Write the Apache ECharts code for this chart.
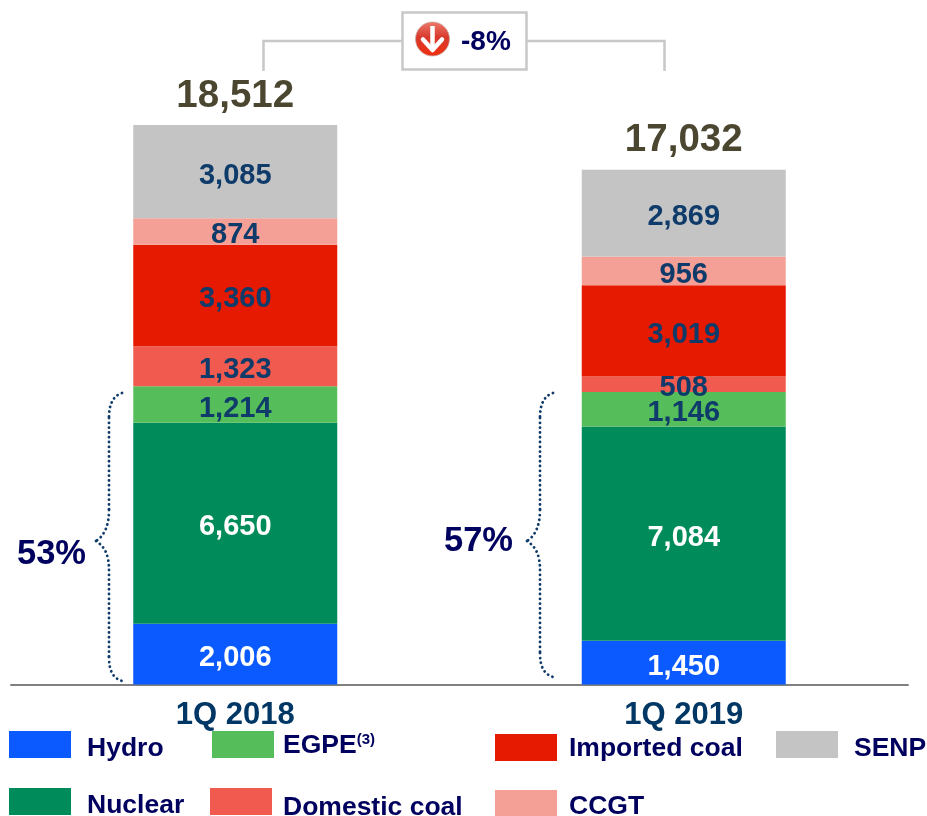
<!DOCTYPE html>
<html>
<head>
<meta charset="utf-8">
<style>html,body{margin:0;padding:0;background:#fff}#c{width:927px;height:816px}</style>
<script src="https://cdn.jsdelivr.net/npm/echarts@6/dist/echarts.min.js"></script>
</head>
<body>
<div id="c"></div>
<script>
var categories = ['1Q 2018', '1Q 2019'];
var hydro = [2006, 1450];
var nuclear = [6650, 7084];
var egpe = [1214, 1146];
var domesticCoal = [1323, 508];
var importedCoal = [3360, 3019];
var ccgt = [874, 956];
var senp = [3085, 2869];
var totals = [18512, 17032];
var shareLabels = ['53%', '57%'];
var changeLabel = '-8%';

var FONT = '"Liberation Sans", Arial, sans-serif';
var NAVY = '#00005f';
var LABEL = '#0f3b6b';
var fmt = function (v) { return String(v).replace(/\B(?=(\d{3})+$)/g, ','); };

var defs = [
  {name: 'Hydro', data: hydro, color: '#0a5aff', text: '#ffffff', left: 9, top: 731, gap: 16, dy: 4},
  {name: 'Nuclear', data: nuclear, color: '#008c5a', text: '#ffffff', left: 9, top: 788, gap: 16, dy: 4},
  {name: 'EGPE', data: egpe, color: '#55be5a', text: LABEL, left: 212, top: 731, gap: 9, dy: 1},
  {name: 'Domestic coal', data: domesticCoal, color: '#f05a4f', text: LABEL, left: 210, top: 788, gap: 11, dy: 6},
  {name: 'Imported coal', data: importedCoal, color: '#e61a00', text: LABEL, left: 495, top: 734, gap: 12, dy: 1},
  {name: 'CCGT', data: ccgt, color: '#f5a096', text: LABEL, left: 495, top: 790, gap: 12, dy: 3},
  {name: 'SENP', data: senp, color: '#c4c4c4', text: LABEL, left: 776, top: 731, gap: 16, dy: 4}
];

var series = defs.map(function (d) {
  return {
    name: d.name, type: 'bar', stack: 'gen', barWidth: 204, data: d.data,
    itemStyle: {color: d.color},
    label: {show: true, position: 'inside', offset: [0, 4], color: d.text, fontFamily: FONT, fontWeight: 'bold', fontSize: 29,
      formatter: function (p) { return fmt(p.value); }}
  };
});
series.push({
  name: 'Total', type: 'scatter', data: totals, symbolSize: 1, silent: true,
  itemStyle: {color: 'rgba(0,0,0,0)', opacity: 1},
  label: {show: true, position: 'top', distance: 9, opacity: 1, color: '#4b4630', fontFamily: FONT, fontWeight: 'bold', fontSize: 38.5,
    formatter: function (p) { return fmt(p.value); }}
});

var legends = defs.map(function (d) {
  return {
    data: [d.name], left: d.left, top: d.top, padding: 0, itemWidth: 62, itemHeight: 27, itemGap: 0,
    selectedMode: false, icon: 'rect', itemStyle: {borderWidth: 0},
    formatter: d.name === 'EGPE' ? '{b|EGPE}{s|(3)}' : undefined,
    textStyle: {
      color: NAVY, fontFamily: FONT, fontWeight: 'bold', fontSize: 26.5, padding: [d.dy * 2, 0, 0, d.gap - 5],
      rich: {
        b: {color: NAVY, fontFamily: FONT, fontWeight: 'bold', fontSize: 26.5},
        s: {color: NAVY, fontFamily: FONT, fontWeight: 'bold', fontSize: 15, verticalAlign: 'top', padding: [0, 0, 8, 0]}
      }
    }
  };
});

function brace(dx, bottom) {
  var st = {stroke: '#0f3b6b', lineWidth: 2.8, lineDash: [0.1, 4.7], lineCap: 'round', fill: 'none'};
  var tip = 541;
  return [
    {type: 'bezierCurve', silent: true, style: st, shape: {x1: 122 + dx, y1: 393, cpx1: 113 + dx, cpy1: 396, cpx2: 109 + dx, cpy2: 404, x2: 109 + dx, y2: 418}},
    {type: 'line', silent: true, style: st, shape: {x1: 109 + dx, y1: 418, x2: 109 + dx, y2: 510}},
    {type: 'bezierCurve', silent: true, style: st, shape: {x1: 109 + dx, y1: 510, cpx1: 109 + dx, cpy1: 526, cpx2: 104 + dx, cpy2: 536, x2: 96 + dx, y2: tip}},
    {type: 'bezierCurve', silent: true, style: st, shape: {x1: 96 + dx, y1: tip, cpx1: 104 + dx, cpy1: 546, cpx2: 109 + dx, cpy2: 554, x2: 109 + dx, y2: 570}},
    {type: 'line', silent: true, style: st, shape: {x1: 109 + dx, y1: 570, x2: 109 + dx, y2: bottom - 24}},
    {type: 'bezierCurve', silent: true, style: st, shape: {x1: 109 + dx, y1: bottom - 24, cpx1: 109 + dx, cpy1: bottom - 10, cpx2: 113 + dx, cpy2: bottom - 3, x2: 122 + dx, y2: bottom}}
  ];
}

var CONN = {stroke: '#c8c8c8', lineWidth: 2.5, fill: 'none'};
var graphics = [
  {type: 'polyline', silent: true, style: CONN, shape: {points: [[263.5, 71], [263.5, 41], [402, 41]]}},
  {type: 'polyline', silent: true, style: CONN, shape: {points: [[527, 41], [664.5, 41], [664.5, 71]]}},
  {type: 'rect', silent: true, shape: {x: 402.5, y: 12.5, width: 124, height: 57}, style: {fill: '#fff', stroke: '#c8c8c8', lineWidth: 2.5}},
  {type: 'circle', silent: true, shape: {cx: 432.5, cy: 39, r: 17}, style: {
    fill: {type: 'linear', x: 0, y: 0, x2: 0, y2: 1, colorStops: [{offset: 0, color: '#ee7a6c'}, {offset: 0.45, color: '#d8392c'}, {offset: 1, color: '#ee2f10'}]},
    stroke: '#c9a9a4', lineWidth: 0.8}},
  {type: 'polyline', silent: true, shape: {points: [[432.5, 26], [432.5, 49]]}, style: {stroke: '#fff', lineWidth: 4.5, fill: 'none'}},
  {type: 'polyline', silent: true, shape: {points: [[423, 39.5], [432.5, 50], [442, 39.5]]}, style: {stroke: '#fff', lineWidth: 4.5, fill: 'none', lineCap: 'round', lineJoin: 'round'}},
  {type: 'text', silent: true, x: 461, y: 42, style: {text: changeLabel, fill: NAVY, font: 'bold 28px ' + FONT, verticalAlign: 'middle'}},
  {type: 'text', silent: true, x: 17, y: 554, style: {text: shareLabels[0], fill: NAVY, font: 'bold 34.5px ' + FONT, verticalAlign: 'middle'}},
  {type: 'text', silent: true, x: 444, y: 541, style: {text: shareLabels[1], fill: NAVY, font: 'bold 34.5px ' + FONT, verticalAlign: 'middle'}}
].concat(brace(0, 681), brace(431, 677));

var chart = echarts.init(document.getElementById('c'), null, {renderer: 'canvas'});
chart.setOption({
  animation: false,
  backgroundColor: '#ffffff',
  legend: legends,
  grid: {left: 11, right: 19, top: 80, bottom: 131.5},
  xAxis: {
    type: 'category', data: categories,
    axisLine: {lineStyle: {color: '#808080', width: 2}},
    axisTick: {show: false},
    axisLabel: {color: '#003764', fontFamily: FONT, fontWeight: 'bold', fontSize: 31, margin: 15}
  },
  yAxis: {type: 'value', min: 0, max: 20000, show: false, splitLine: {show: false}},
  series: series,
  graphic: {elements: graphics}
});
</script>
</body>
</html>
